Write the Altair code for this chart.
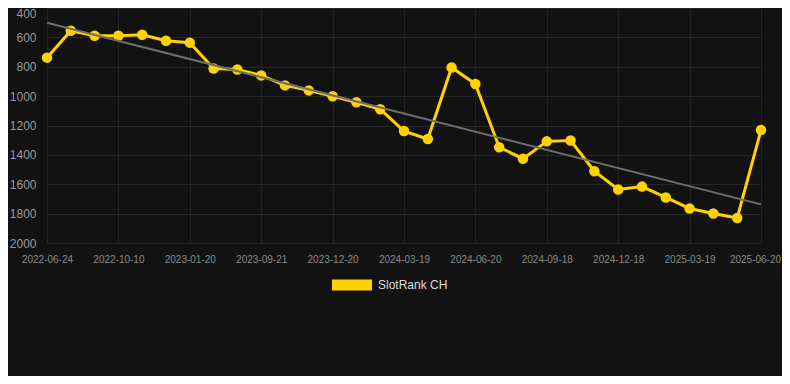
import altair as alt
import pandas as pd

dates = [
    "2022-06-24", "2022-07-30", "2022-09-03", "2022-10-10", "2022-11-13", "2022-12-17",
    "2023-01-20", "2023-04-21", "2023-07-21", "2023-09-21", "2023-10-21", "2023-11-20",
    "2023-12-20", "2024-01-19", "2024-02-18", "2024-03-19", "2024-04-19", "2024-05-20",
    "2024-06-20", "2024-07-20", "2024-08-19", "2024-09-18", "2024-10-18", "2024-11-17",
    "2024-12-18", "2025-01-17", "2025-02-16", "2025-03-19", "2025-04-19", "2025-05-20",
    "2025-06-20",
]
ranks = [
    738, 555, 589, 589, 582, 623, 636, 812, 819, 859, 927, 961,
    1001, 1042, 1089, 1238, 1292, 805, 918, 1348, 1426, 1308, 1302, 1511,
    1636, 1616, 1690, 1765, 1799, 1830, 1231,
]
label_dates = dates[::3]
y_ticks = [400, 600, 800, 1000, 1200, 1400, 1600, 1800, 2000]
trend_dates = [dates[0], dates[-1]]
trend_values = [500, 1737]
series_name = "SlotRank CH"

df = pd.DataFrame({"date": dates, "rank": ranks, "series": [series_name] * len(dates)})
trend_df = pd.DataFrame({"date": trend_dates, "rank": trend_values})

FONT = "Liberation Sans"
YELLOW = "#FFD200"

x_scale = alt.Scale(type="point", range=[7, 721], padding=0)
x_axis = alt.Axis(
    values=label_dates, labelAngle=0, ticks=False, tickSize=0, domain=False,
    labelColor="#8a8a8a", labelFontSize=10, labelPadding=11, labelFont=FONT,
    labelOverlap=False,
    labelOffset={"condition": {"test": "datum.value == '2025-06-20'", "value": -6}, "value": 0},
    grid=True, gridColor="#232323", title=None,
)
y_scale = alt.Scale(domain=[400, 2000], range=[0, 235], nice=False, zero=False)
y_axis = alt.Axis(
    values=y_ticks, format="d", labelOverlap=False,
    ticks=False, tickSize=0, domain=False, labelPadding=4,
    labelColor="#9a9a9a", labelFontSize=12, labelFont=FONT,
    labelBaseline={"condition": {"test": "datum.value == 400", "value": "top"}, "value": "middle"},
    grid=True, gridColor="#262626", title=None,
)

trend = alt.Chart(trend_df).mark_line(color="#6e6e6e", strokeWidth=2).encode(
    x=alt.X("date:O", sort=None, scale=x_scale, axis=x_axis),
    y=alt.Y("rank:Q", scale=y_scale, axis=y_axis),
)

line = alt.Chart(df).mark_line(strokeWidth=3, point=alt.OverlayMarkDef(size=110, filled=True, opacity=1)).encode(
    x=alt.X("date:O", sort=None, scale=x_scale, axis=x_axis),
    y=alt.Y("rank:Q", scale=y_scale, axis=y_axis),
    color=alt.Color(
        "series:N",
        scale=alt.Scale(domain=[series_name], range=[YELLOW]),
        legend=alt.Legend(
            title=None, orient="none", legendX=292, legendY=257,
            symbolType="M-1,-0.28H1V0.28H-1Z", symbolSize=1600, symbolStrokeWidth=0,
            symbolFillColor=YELLOW, labelColor="#dddddd", labelFontSize=12, labelFont=FONT,
            labelOffset=6,
        ),
    ),
)

chart = (
    alt.layer(line, trend)
    .properties(
        width=742, height=235,
        background="#121212",
        padding={"left": 32, "top": 0, "right": 0, "bottom": 133},
        autosize=alt.AutoSizeParams(type="none"),
    )
    .configure_view(stroke=None)
)

chart.save("out.html", embed_options={"renderer": "svg", "actions": False})
